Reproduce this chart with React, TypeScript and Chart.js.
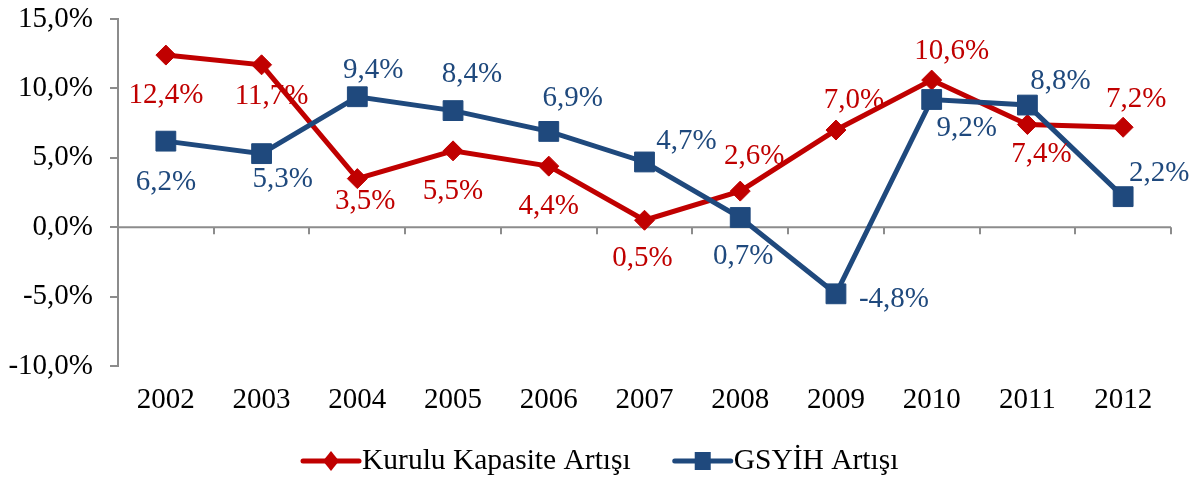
import React, { useEffect, useRef } from 'react';
import { Chart, registerables } from 'chart.js';

Chart.register(...registerables);

// ---- data ----
const years = ['2002', '2003', '2004', '2005', '2006', '2007', '2008', '2009', '2010', '2011', '2012'];
const capacityGrowth = [12.4, 11.7, 3.5, 5.5, 4.4, 0.5, 2.6, 7.0, 10.6, 7.4, 7.2];
const gdpGrowth = [6.2, 5.3, 9.4, 8.4, 6.9, 4.7, 0.7, -4.8, 9.2, 8.8, 2.2];
const yTicks = [-10, -5, 0, 5, 10, 15];
const seriesNames = ['Kurulu Kapasite Artışı', 'GSYİH Artışı'];

// ---- styles ----
const FONT = "'Liberation Serif', 'Times New Roman', serif";
const FONT_SIZE = 29;
const RED = '#C00000';
const BLUE = '#1F497D';
const AXIS = '#8C8C8C';
// data label offsets (dx, dy) from each marker, in pixels
const capacityLabelOffsets = [[0, 40], [10, 32], [8, 23], [0, 41], [0, 40], [-2, 38], [14, -35], [18, -30], [20, -29], [14, 30], [13, -28]];
const gdpLabelOffsets = [[0, 41], [21, 26], [16, -26], [19, -36], [24, -33], [42, -21], [3, 39], [58, 6], [35, 29], [33, -24], [36, -23]];

const fmt = (v: number) => v.toFixed(1).replace('.', ',') + '%';

const customPlugin = {
  id: 'customDecor',
  beforeDatasetsDraw(chart: any) {
    const { ctx, chartArea, scales } = chart;
    const x = scales.x;
    const y = scales.y;
    const y0 = y.getPixelForValue(0);
    ctx.save();
    ctx.strokeStyle = AXIS;
    ctx.lineWidth = 2;
    ctx.beginPath();
    ctx.moveTo(chartArea.left, y0);
    ctx.lineTo(chartArea.right, y0);
    ctx.stroke();
    for (let i = 0; i < years.length; i++) {
      const px = Math.round(x.getPixelForValue(i + 0.5));
      ctx.beginPath();
      ctx.moveTo(px, y0);
      ctx.lineTo(px, y0 + 7);
      ctx.stroke();
    }
    ctx.restore();
  },
  afterDatasetsDraw(chart: any) {
    const { ctx } = chart;
    ctx.save();
    ctx.font = `${FONT_SIZE}px ${FONT}`;
    ctx.textAlign = 'center';
    ctx.textBaseline = 'middle';
    chart.data.datasets.forEach((ds: any, di: number) => {
      const meta = chart.getDatasetMeta(di);
      const offsets = ds.labelOffsets;
      ctx.fillStyle = ds.labelColor;
      meta.data.forEach((pt: any, i: number) => {
        const v = ds.data[i];
        const [dx, dy] = offsets[i];
        ctx.fillText(fmt(v), pt.x + dx, pt.y + dy);
      });
    });
    ctx.restore();
  },
  afterDraw(chart: any) {
    const { ctx } = chart;
    ctx.save();
    ctx.font = `29.5px ${FONT}`;
    const yc = chart.height - 16;
    let x = 303;
    const items = [
      { name: seriesNames[0], color: RED, style: 'diamond' },
      { name: seriesNames[1], color: BLUE, style: 'square' },
    ];
    items.forEach((it) => {
      ctx.strokeStyle = it.color;
      ctx.fillStyle = it.color;
      ctx.lineWidth = 5;
      ctx.lineCap = 'round';
      ctx.beginPath();
      ctx.moveTo(x, yc);
      ctx.lineTo(x + 56, yc);
      ctx.stroke();
      const mx = x + 28;
      ctx.beginPath();
      if (it.style === 'diamond') {
        ctx.moveTo(mx, yc - 10);
        ctx.lineTo(mx + 8, yc);
        ctx.lineTo(mx, yc + 10);
        ctx.lineTo(mx - 8, yc);
        ctx.closePath();
        ctx.fill();
      } else {
        ctx.fillRect(mx - 8, yc - 9, 16, 18);
      }
      ctx.fillStyle = '#000';
      ctx.textAlign = 'left';
      ctx.textBaseline = 'middle';
      ctx.fillText(it.name, x + 59, yc);
      x += 59 + ctx.measureText(it.name).width + 44;
    });
    ctx.restore();
  },
};

export default function App() {
  const canvasRef = useRef<HTMLCanvasElement | null>(null);

  useEffect(() => {
    if (!canvasRef.current) return;
    const chart = new Chart(canvasRef.current, {
      type: 'line',
      data: {
        labels: years,
        datasets: [
          {
            label: seriesNames[0],
            data: capacityGrowth,
            borderColor: RED,
            backgroundColor: RED,
            borderWidth: 5,
            pointStyle: 'rectRot',
            pointRadius: 10,
            pointHoverRadius: 10,
            pointBorderWidth: 1,
            tension: 0,
            order: 1,
            labelColor: RED,
            labelOffsets: capacityLabelOffsets,
          } as any,
          {
            label: seriesNames[1],
            data: gdpGrowth,
            borderColor: BLUE,
            backgroundColor: BLUE,
            borderWidth: 5,
            pointStyle: 'rect',
            pointRadius: 14,
            pointHoverRadius: 14,
            pointBorderWidth: 1,
            tension: 0,
            order: 0,
            labelColor: BLUE,
            labelOffsets: gdpLabelOffsets,
          } as any,
        ],
      },
      options: {
        animation: false,
        responsive: false,
        devicePixelRatio: 1,
        layout: { padding: { left: 0, right: 32, top: 19, bottom: 60 } },
        plugins: {
          legend: { display: false },
          tooltip: { enabled: false },
        },
        scales: {
          x: {
            offset: true,
            grid: { display: false, drawTicks: false },
            border: { display: false },
            ticks: {
              font: { family: FONT, size: FONT_SIZE },
              color: '#000',
              padding: 17,
              maxRotation: 0,
              autoSkip: false,
            },
            afterFit: (s: any) => {
              s.height = 51;
              s.paddingLeft = 0;
              s.paddingRight = 0;
            },
          },
          y: {
            min: -10,
            max: 15,
            afterBuildTicks: (s: any) => {
              s.ticks = yTicks.map((v) => ({ value: v }));
            },
            ticks: {
              font: { family: FONT, size: FONT_SIZE },
              color: '#000',
              padding: 17,
              callback: (v: any) => fmt(Number(v)),
            },
            grid: {
              drawOnChartArea: false,
              drawTicks: true,
              tickLength: 8,
              color: AXIS,
              lineWidth: 2,
            },
            border: { display: true, color: AXIS, width: 2 },
            afterFit: (s: any) => {
              s.width = 118;
              s.paddingTop = 0;
              s.paddingBottom = 0;
            },
          },
        },
      },
      plugins: [customPlugin],
    });
    return () => chart.destroy();
  }, []);

  return (
    <div style={{ position: 'fixed', left: 0, top: 0, width: 1203, height: 477, background: '#fff' }}>
      <canvas ref={canvasRef} width={1203} height={477} style={{ display: 'block' }} />
    </div>
  );
}
